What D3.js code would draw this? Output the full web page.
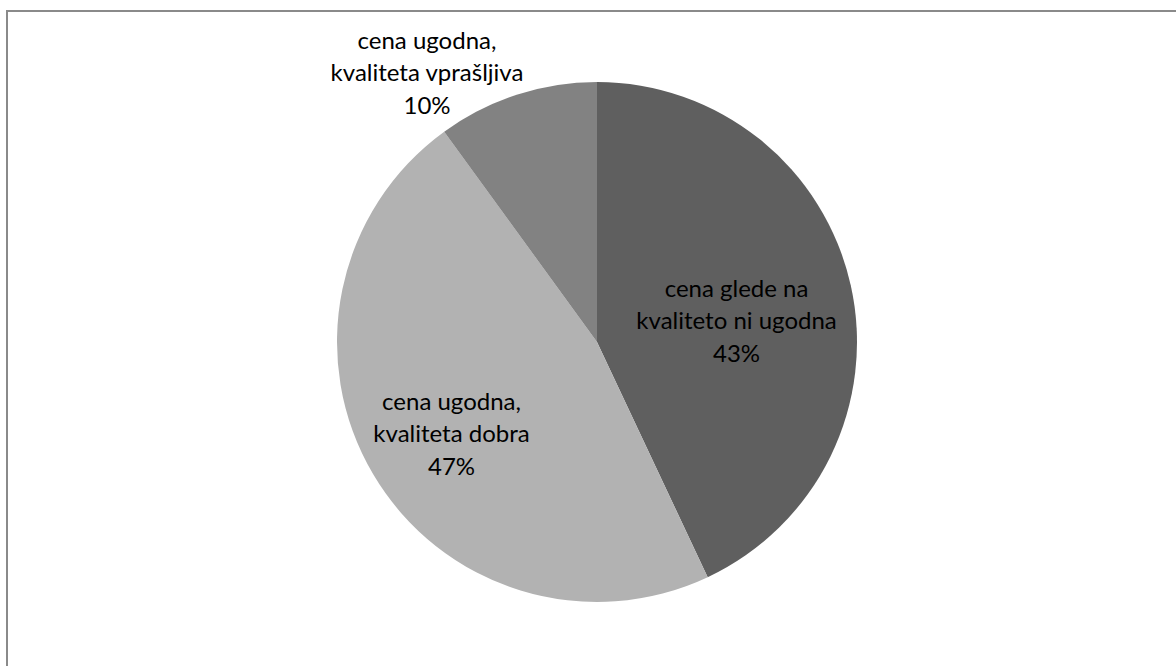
<!DOCTYPE html>
<html>
<head>
<meta charset="utf-8">
<script src="https://cdn.jsdelivr.net/npm/d3@7"></script>
<style>
  html, body { margin: 0; padding: 0; background: #fff; }
  svg { display: block; }
  text { font-family: Lato, "Open Sans", sans-serif; fill: #000; }
</style>
</head>
<body>
<svg id="chart" width="1176" height="666"></svg>
<script>
// Slice data (clockwise from 12 o'clock)
const categories = [
  ["cena glede na", "kvaliteto ni ugodna"],
  ["cena ugodna,", "kvaliteta dobra"],
  ["cena ugodna,", "kvaliteta vprašljiva"]
];
const values = [43, 47, 10];
const percentLabels = ["43%", "47%", "10%"];
const sliceColors = ["#5f5f5f", "#b2b2b2", "#828282"];

const width = 1176, height = 666;
const cx = 597, cy = 342, radius = 260;

const svg = d3.select("#chart");

// chart frame
svg.append("rect")
  .attr("x", 7).attr("y", 11)
  .attr("width", width + 10).attr("height", height + 10)
  .attr("fill", "#fff")
  .attr("stroke", "#8a8a8a")
  .attr("stroke-width", 2);

const pie = d3.pie().sort(null).value(d => d)(values);
const arc = d3.arc().innerRadius(0).outerRadius(radius);

const g = svg.append("g").attr("transform", `translate(${cx},${cy})`);

g.selectAll("path.slice")
  .data(pie)
  .join("path")
  .attr("class", "slice")
  .attr("d", arc)
  .attr("fill", (d, i) => sliceColors[i]);

// label anchors: radius along the slice bisector, plus a small nudge
const labelLayout = [
  { r: 0.55, dx: 0, dy: 10 },
  { r: 0.65, dx: 0, dy: 6 },
  { r: 1.2, dx: 0, dy: 0, outside: true }
];

const lineH = 32.5;
const fontSize = 24;

pie.forEach((d, i) => {
  const L = labelLayout[i];
  const a = (d.startAngle + d.endAngle) / 2;
  let x = Math.sin(a) * radius * L.r + L.dx;
  let y = -Math.cos(a) * radius * L.r + L.dy;
  if (L.outside) {
    // outside label sits above the slice, left of the top
    x = -170; y = -269;
  }
  const lines = categories[i].concat([percentLabels[i]]);
  const t = g.append("text")
    .attr("text-anchor", "middle")
    .attr("font-size", fontSize);
  lines.forEach((s, j) => {
    t.append("tspan")
      .attr("x", x)
      .attr("y", y + (j - 1) * lineH)
      .attr("dy", "0.35em")
      .text(s);
  });
});
</script>
</body>
</html>
